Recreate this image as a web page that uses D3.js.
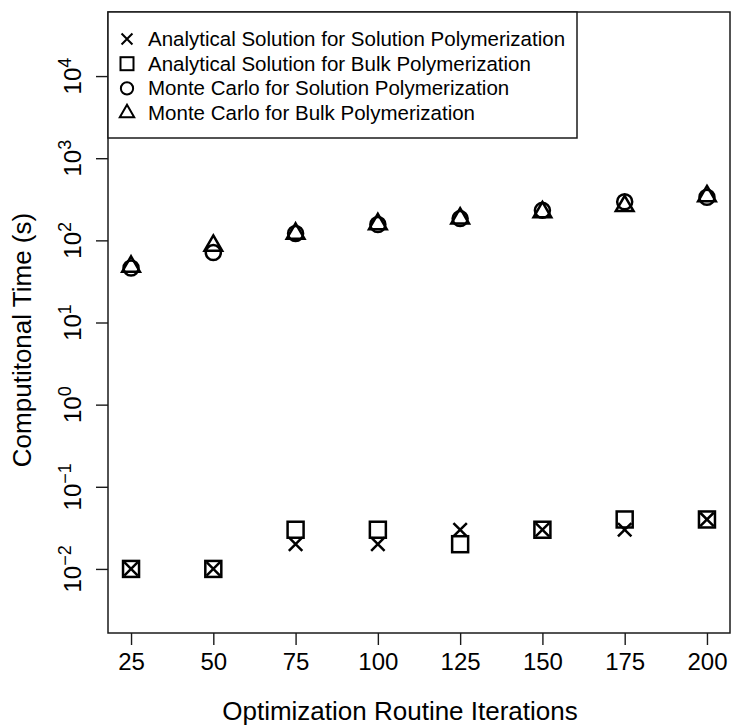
<!DOCTYPE html>
<html><head><meta charset="utf-8">
<script src="https://cdn.jsdelivr.net/npm/d3@7"></script>
<style>body{margin:0;background:#fff}svg{display:block}text{font-family:"Liberation Sans",Arial,sans-serif;fill:#000}</style>
</head><body>
<script>
const iterations = [25, 50, 75, 100, 125, 150, 175, 200];
const analyticalSolution = [0.01, 0.01, 0.02, 0.02, 0.03, 0.03, 0.03, 0.04];
const analyticalBulk = [0.01, 0.01, 0.03, 0.03, 0.02, 0.03, 0.04, 0.04];
const monteCarloSolution = [46, 71, 121, 156, 184, 232, 295, 335];
const monteCarloBulk = [48, 86, 121, 158, 185, 220, 262, 345];
const xTicks = [25, 50, 75, 100, 125, 150, 175, 200];
const yTickExponents = [-2, -1, 0, 1, 2, 3, 4];
const seriesNames = ["Analytical Solution for Solution Polymerization","Analytical Solution for Bulk Polymerization","Monte Carlo for Solution Polymerization","Monte Carlo for Bulk Polymerization"];
const seriesShapes = ["cross","square","circle","triangle"];
const seriesValues = [analyticalSolution, analyticalBulk, monteCarloSolution, monteCarloBulk];

const W = 734, H = 727;
const L = 108, R = 730, T = 12, B = 633;
const svg = d3.select("body").append("svg").attr("width", W).attr("height", H);
const x = d3.scaleLinear().domain([18, 207]).range([L, R]);
const y = d3.scaleLog().domain([Math.pow(10, -2.78), Math.pow(10, 4.78)]).range([B, T]);

function drawShape(g, shape, cx, cy, s, sw) {
  const col = "#000";
  if (shape === "cross") {
    g.append("path").attr("d", `M${cx-s*0.42},${cy-s*0.42}L${cx+s*0.42},${cy+s*0.42}M${cx-s*0.42},${cy+s*0.42}L${cx+s*0.42},${cy-s*0.42}`)
      .attr("stroke", col).attr("stroke-width", sw).attr("fill", "none");
  } else if (shape === "square") {
    g.append("rect").attr("x", cx-s/2).attr("y", cy-s/2).attr("width", s).attr("height", s)
      .attr("stroke", col).attr("stroke-width", sw).attr("fill", "none");
  } else if (shape === "circle") {
    g.append("circle").attr("cx", cx).attr("cy", cy).attr("r", s*0.47)
      .attr("stroke", col).attr("stroke-width", sw).attr("fill", "none");
  } else {
    const r = s*0.64;
    g.append("path").attr("d", `M${cx},${cy-r}L${cx+r*0.866},${cy+r*0.5}L${cx-r*0.866},${cy+r*0.5}Z`)
      .attr("stroke", col).attr("stroke-width", sw).attr("fill", "none").attr("stroke-linejoin","miter");
  }
}

// points
const pts = svg.append("g");
seriesValues.forEach((vals, si) => {
  vals.forEach((v, i) => drawShape(pts, seriesShapes[si], x(iterations[i]), y(v), 16, 2.5));
});

// box
svg.append("rect").attr("x", L).attr("y", T).attr("width", R-L).attr("height", B-T)
  .attr("fill", "none").attr("stroke", "#1a1a1a").attr("stroke-width", 1.5);

// x axis
const xa = svg.append("g").attr("transform", `translate(0,${B})`)
  .call(d3.axisBottom(x).tickValues(xTicks).tickSize(12).tickPadding(8).tickFormat(d3.format("d")));
xa.select(".domain").remove();
xa.selectAll("line").attr("stroke", "#1a1a1a").attr("stroke-width", 1.4);
xa.selectAll("text").style("font-size", "24px").attr("fill", "#000");

// y axis
const ya = svg.append("g").attr("transform", `translate(${L},0)`)
  .call(d3.axisLeft(y).tickValues(yTickExponents.map(e => Math.pow(10, e))).tickSize(12).tickFormat(""));
ya.select(".domain").remove();
ya.selectAll("line").attr("stroke", "#1a1a1a").attr("stroke-width", 1.4);
yTickExponents.forEach(e => {
  const t = svg.append("text").attr("transform", `translate(81,${y(Math.pow(10, e))}) rotate(-90)`)
    .attr("text-anchor", "middle").style("font-size", "24px");
  t.append("tspan").text("10");
  t.append("tspan").attr("dy", -10).style("font-size", "18px").text(e < 0 ? "\u2212" + (-e) : String(e));
});

// axis titles
svg.append("text").attr("x", 400).attr("y", 720).attr("text-anchor", "middle")
  .style("font-size", "26px").text("Optimization Routine Iterations");
svg.append("text").attr("transform", `translate(31,340) rotate(-90)`).attr("text-anchor", "middle")
  .style("font-size", "26px").text("Computitonal Time (s)");

// legend
const lg = svg.append("g");
lg.append("rect").attr("x", L).attr("y", T).attr("width", 469).attr("height", 126)
  .attr("fill", "#fff").attr("stroke", "#1a1a1a").attr("stroke-width", 1.5);
seriesNames.forEach((n, i) => {
  const cy = 39 + i*24.7;
  drawShape(lg, seriesShapes[i], 127, cy, 13, 2);
  lg.append("text").attr("x", 148).attr("y", cy + 7).style("font-size", "20.5px").text(n);
});
</script>
</body></html>
